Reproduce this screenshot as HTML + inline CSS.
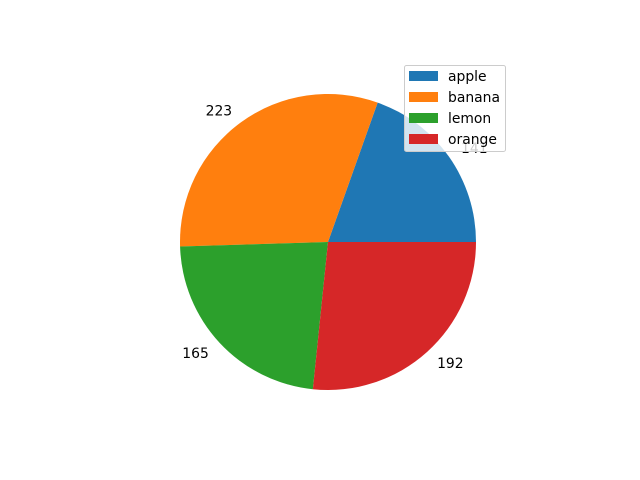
<!DOCTYPE html>
<html><head><meta charset="utf-8"><style>
body{margin:0;background:#fff}
svg{display:block;font-family:"DejaVu Sans","Liberation Sans",sans-serif}
</style></head><body>
<svg id="chart" width="640" height="480" viewBox="0 0 640 480"></svg>
<script>
const categories = ["apple","banana","lemon","orange"];
const values = [141,223,165,192];
const colors = ["#1f77b4","#ff7f0e","#2ca02c","#d62728"];
const NS="http://www.w3.org/2000/svg";
const svg=document.getElementById('chart');
const cx=328, cy=242, r=148;
const total=values.reduce((a,b)=>a+b,0);
function pt(deg,rad){const a=deg*Math.PI/180;return [cx+rad*Math.cos(a), cy-rad*Math.sin(a)];}
let start=0;
values.forEach((v,i)=>{
  const sweep=v/total*360, end=start+sweep;
  const [x1,y1]=pt(start,r),[x2,y2]=pt(end,r);
  const p=document.createElementNS(NS,'path');
  p.setAttribute('d',`M${cx},${cy} L${x1},${y1} A${r},${r} 0 ${sweep>180?1:0} 0 ${x2},${y2} Z`);
  p.setAttribute('fill',colors[i]);
  
  
  svg.appendChild(p);
  const mid=(start+end)/2;
  const [lx,ly]=pt(mid,r*1.1);
  const t=document.createElementNS(NS,'text');
  t.setAttribute('x',lx);t.setAttribute('y',ly+1);
  t.setAttribute('font-size','13.9');
  t.setAttribute('dominant-baseline','central');
  t.setAttribute('text-anchor',Math.cos(mid*Math.PI/180)>=0?'start':'end');
  t.textContent=v;
  
  
  svg.appendChild(t);
  start=end;
});
const g=document.createElementNS(NS,'g');


const box=document.createElementNS(NS,'rect');
box.setAttribute('x',404.5);box.setAttribute('y',65.5);box.setAttribute('width',101);box.setAttribute('height',86);
box.setAttribute('rx',2);box.setAttribute('fill','#fff');box.setAttribute('fill-opacity','0.8');box.setAttribute('stroke','#ccc');


g.appendChild(box);
categories.forEach((c,i)=>{
  const y=76+i*21;
  const e=document.createElementNS(NS,'g');
  
  
  const s=document.createElementNS(NS,'rect');
  s.setAttribute('x',409);s.setAttribute('y',y-5);s.setAttribute('width',29);s.setAttribute('height',10);s.setAttribute('fill',colors[i]);
  const t=document.createElementNS(NS,'text');
  t.setAttribute('x',448);t.setAttribute('y',y+1);t.setAttribute('font-size','13.9');t.setAttribute('dominant-baseline','central');
  t.textContent=c;
  e.appendChild(s);e.appendChild(t);g.appendChild(e);
});
svg.appendChild(g);
</script>
</body></html>
